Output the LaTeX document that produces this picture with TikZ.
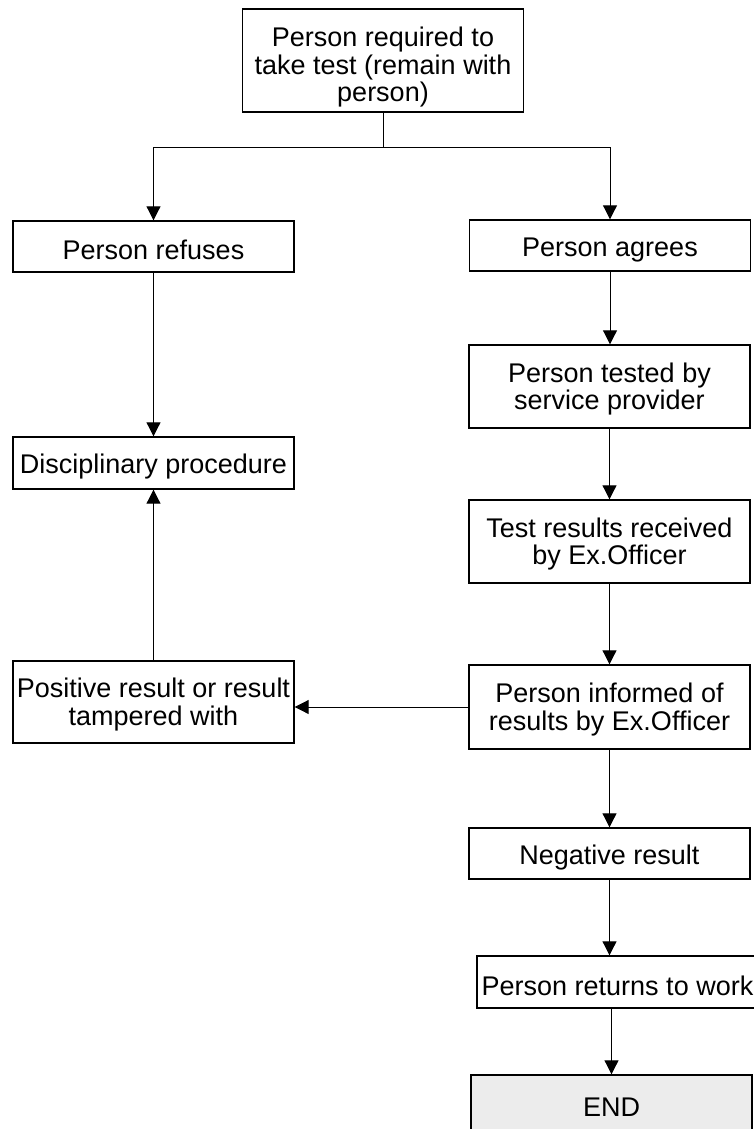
\documentclass[tikz,border=0pt]{standalone}
\usepackage{fontspec}
\setmainfont{Liberation Sans}
\usetikzlibrary{arrows.meta}
\definecolor{endgray}{RGB}{236,236,236}
\newcommand{\lowstrut}[1]{\rule{0pt}{#1}}

\begin{document}
\begin{tikzpicture}[x=1pt, y=-1pt,
  box/.style={draw, line width=1.4pt, minimum width=281pt, minimum height=51pt,
    inner sep=2pt, align=center, font=\fontsize{27}{27.5}\selectfont,
    execute at begin node={\rule{0pt}{27pt}}},
  arr/.style={line width=1pt, -{Triangle[width=14pt,length=14pt]}}]
\useasboundingbox (0,0) rectangle (754,1129);

% left column
\node[box, minimum height=103pt] (required) at (383,60.5) {\lowstrut{33pt}Person required to\\take test (remain with\\person)};
\node[box] (refuses) at (153.5,246.5) {Person refuses};
\node[box, minimum height=52pt] (discipline) at (153.5,463) {Disciplinary procedure};
\node[box, minimum height=82pt] (positive) at (153.5,702) {\lowstrut{25pt}Positive result or result\\tampered with};

% right column
\node[box] (agrees) at (610,245.5) {Person agrees};
\node[box, minimum height=83pt] (tested) at (609.5,386.5) {\lowstrut{25pt}Person tested by\\service provider};
\node[box, minimum height=83pt] (received) at (609.5,541.5) {\lowstrut{25pt}Test results received\\by Ex.Officer};
\node[box, minimum height=84pt] (informed) at (609.5,707) {\lowstrut{25pt}Person informed of\\results by Ex.Officer};
\node[box] (negative) at (609.5,853.5) {Negative result};
\node[box, minimum height=52pt] (returns) at (617.5,982) {Person returns to work};
\node[box, fill=endgray, minimum height=56pt] (finish) at (611.5,1103) {END};

\draw[line width=1pt] (required.south) -- ++(0,35) coordinate (split);
\draw[arr] (split) -| (refuses.north);
\draw[arr] (split) -| (agrees.north);

\draw[arr] (refuses) -- (discipline);
\draw[arr] (positive) -- (discipline);
\draw[arr] (informed.west) -- (informed.west -| positive.east);

\draw[arr] (agrees.south) -- (agrees.south |- tested.north);
\draw[arr] (tested.south) -- (tested.south |- received.north);
\draw[arr] (received.south) -- (received.south |- informed.north);
\draw[arr] (informed.south) -- (informed.south |- negative.north);
\draw[arr] (negative.south) -- (negative.south |- returns.north);
\draw[arr] ([xshift=-6pt]returns.south) -- ([xshift=-6pt]returns.south |- finish.north);
\end{tikzpicture}
\end{document}
